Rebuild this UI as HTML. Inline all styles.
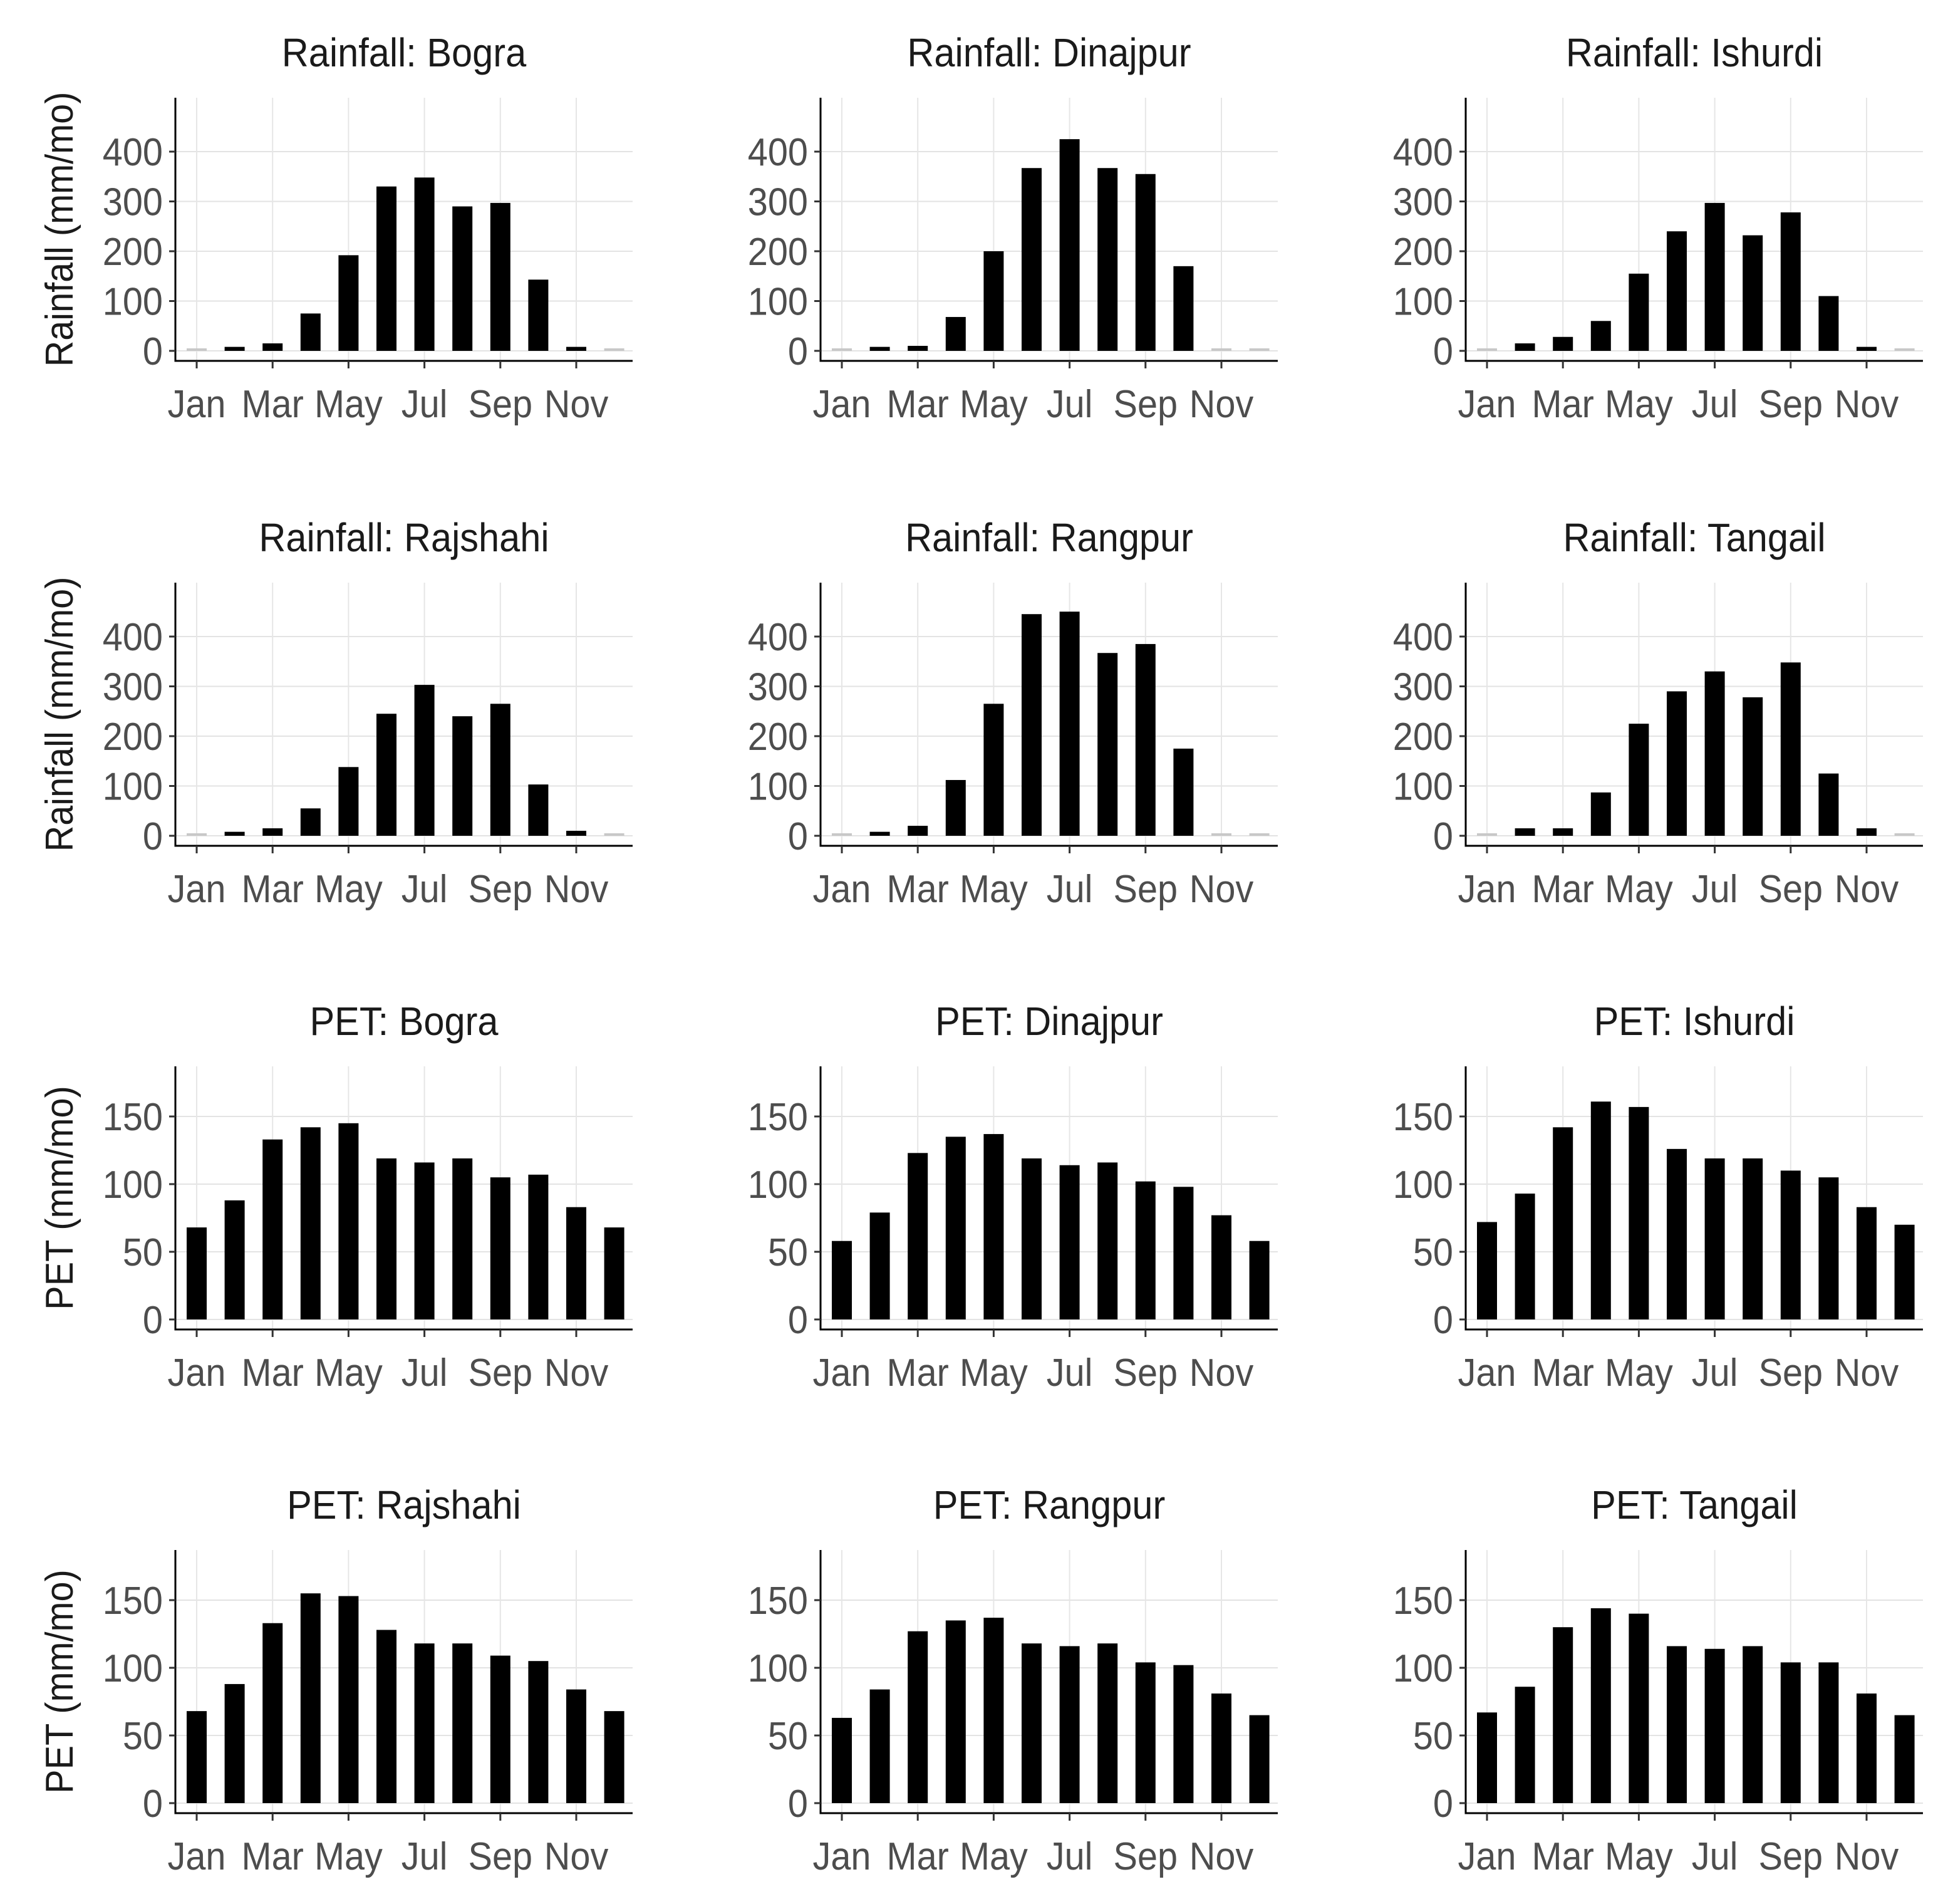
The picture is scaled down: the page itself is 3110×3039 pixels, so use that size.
<!DOCTYPE html>
<html><head><meta charset="utf-8"><style>
html,body{margin:0;padding:0;background:#fff;}
svg{display:block;}
text{font-family:"Liberation Sans Narrow","Liberation Sans",sans-serif;}
</style></head><body>
<svg id="chart" width="3110" height="3039" viewBox="0 0 3110 3039" xmlns="http://www.w3.org/2000/svg"></svg>
<script>
const months = ["Jan","Feb","Mar","Apr","May","Jun","Jul","Aug","Sep","Oct","Nov","Dec"];
const stations = ["Bogra","Dinajpur","Ishurdi","Rajshahi","Rangpur","Tangail"];
const rainTicks = [0,100,200,300,400];
const petTicks = [0,50,100,150];
const xTickLabels = ["Jan","Mar","May","Jul","Sep","Nov"];
const rainBogra    = [5,8,15,75,192,330,348,290,297,143,8,5];
const rainDinajpur = [5,8,10,68,200,367,425,367,355,170,5,5];
const rainIshurdi  = [5,15,28,60,155,240,297,232,278,110,8,5];
const rainRajshahi = [5,8,15,55,138,245,303,240,265,103,10,5];
const rainRangpur  = [5,8,20,112,265,445,450,367,385,175,5,5];
const rainTangail  = [5,15,15,87,225,290,330,278,348,125,15,5];
const rainMissing = {Bogra:[0,11],Dinajpur:[0,10,11],Ishurdi:[0,11],Rajshahi:[0,11],Rangpur:[0,10,11],Tangail:[0,11]};
const petBogra    = [68,88,133,142,145,119,116,119,105,107,83,68];
const petDinajpur = [58,79,123,135,137,119,114,116,102,98,77,58];
const petIshurdi  = [72,93,142,161,157,126,119,119,110,105,83,70];
const petRajshahi = [68,88,133,155,153,128,118,118,109,105,84,68];
const petRangpur  = [63,84,127,135,137,118,116,118,104,102,81,65];
const petTangail  = [67,86,130,144,140,116,114,116,104,104,81,65];
const rainData = [rainBogra,rainDinajpur,rainIshurdi,rainRajshahi,rainRangpur,rainTangail];
const petData = [petBogra,petDinajpur,petIshurdi,petRajshahi,petRangpur,petTangail];

const svg = document.getElementById('chart');
const NS = 'http://www.w3.org/2000/svg';
function mk(tag, attrs, parent){const e=document.createElementNS(NS,tag);for(const k in attrs)e.setAttribute(k,attrs[k]);parent.appendChild(e);return e;}
function txt(parent,x,y,anchor,size,fill,str,rot){
  const t = mk('text',{x:0,y:0,'text-anchor':anchor,'font-size':size,fill:fill,
    transform:'translate('+x+' '+y+')'+(rot?' rotate(-90)':'')+' scale(0.93 1)'},parent);
  t.textContent = str;
  return t;
}

const colX = [280,1310,2340];
const rowAxisY = [576,1350,2122,2894];
const plotW = 730;

function panel(row,col,title,vals,ticks,scale,missing,yTitle){
  const g = mk('g',{},svg);
  
  
  const ax = colX[col], ay = rowAxisY[row];
  const zero = ay - 16, top = ay - 420;
  const xS = m => ax + 34 + m*60.6;
  const yS = v => zero - v*scale;
  ticks.forEach(t=>{
    const l = mk('line',{x1:ax,x2:ax+plotW,y1:yS(t),y2:yS(t),stroke:'#e3e3e3','stroke-width':2},g);
    
    
  });
  xTickLabels.forEach(lbl=>{
    const m = months.indexOf(lbl);
    const l = mk('line',{x1:xS(m),x2:xS(m),y1:top,y2:ay,stroke:'#e6e6e6','stroke-width':2},g);
    
    
  });
  vals.forEach((v,m)=>{
    const miss = missing && missing.indexOf(m)>=0;
    const r = mk('rect',{x:xS(m)-16,y:yS(v),width:32,height:Math.max(zero-yS(v),0),fill:miss?'#c8c8c8':'#000'},g);
    
    
  });
  const ya = mk('line',{x1:ax,x2:ax,y1:top,y2:ay+1.5,stroke:'#000','stroke-width':3},g);
  
  
  const xa = mk('line',{x1:ax-1.5,x2:ax+plotW,y1:ay,y2:ay,stroke:'#000','stroke-width':3},g);
  
  
  ticks.forEach(t=>{
    mk('line',{x1:ax-10,x2:ax,y1:yS(t),y2:yS(t),stroke:'#333','stroke-width':3},g);
    const tx = txt(g,ax-20,yS(t)+22,'end',62,'#4d4d4d',String(t));
    
    
  });
  xTickLabels.forEach(lbl=>{
    const m = months.indexOf(lbl);
    mk('line',{x1:xS(m),x2:xS(m),y1:ay,y2:ay+12,stroke:'#333','stroke-width':3},g);
    const tx = txt(g,xS(m),ay+90,'middle',62,'#4d4d4d',lbl);
    
    
  });
  const tt = txt(g,ax+365,ay-470,'middle',64,'#1a1a1a',title);
  
  
  if(yTitle){
    const cy = (top+ay)/2;
    const yt = txt(g,116,cy,'middle',62,'#1a1a1a',yTitle,true);
    
    
  }
}
stations.forEach((s,i)=>{
  const row = Math.floor(i/3), col = i%3;
  panel(row,col,'Rainfall: '+s,rainData[i],rainTicks,0.795,rainMissing[s],col===0?'Rainfall (mm/mo)':null);
  panel(row+2,col,'PET: '+s,petData[i],petTicks,2.16,null,col===0?'PET (mm/mo)':null);
});
</script>
</body></html>
